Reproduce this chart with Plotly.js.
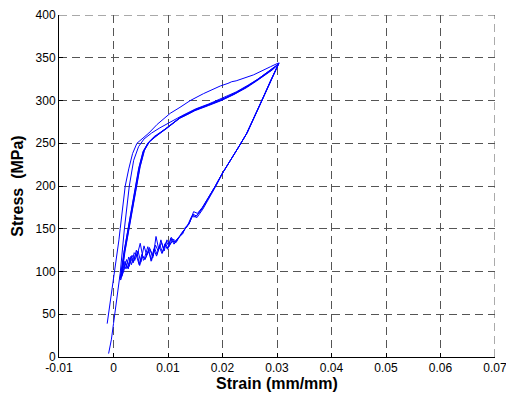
<!DOCTYPE html>
<html>
<head>
<meta charset="utf-8">
<script src="https://cdn.plot.ly/plotly-3.0.1.min.js"></script>
<style>
  html, body { margin: 0; padding: 0; background: #fff; }
  #chart { width: 506px; height: 399px; }
</style>
</head>
<body>
<div id="chart"></div>
<script>
// Cyclic stress-strain test: first loadings and repeated unload/reload loops.

// First loading, upper branch
const strainA = [-0.00116, -0.0006, 0.0, 0.0006, 0.001, 0.00123, 0.0017, 0.00215, 0.0028, 0.0035, 0.0043, 0.0052, 0.0065, 0.008, 0.0104, 0.0122, 0.0141, 0.0165, 0.0196, 0.021, 0.0217, 0.0225, 0.0257, 0.0288, 0.0303];
const stressA = [39, 64, 90, 115, 137, 150, 175, 200, 220, 238, 250, 255, 262, 272, 285, 292, 300, 308, 317, 320, 322, 323, 330, 339.5, 344];

// Second first-loading, joining the main band
const strainB = [-0.0009, -0.0004, 0.0, 0.0006, 0.00123, 0.002, 0.0029, 0.0037, 0.0046, 0.0056, 0.007, 0.0085, 0.0104, 0.0125, 0.015, 0.0175, 0.02, 0.0225, 0.0247, 0.0265, 0.0282, 0.0303];
const stressB = [4, 20, 39, 68, 98, 150, 200, 230, 246, 255, 262, 268, 275, 282, 290, 296, 303, 310, 318, 325, 333, 343];

// Loop 1: unloading then reloading
const strainL1 = [0.0303, 0.029, 0.0275, 0.026, 0.0245, 0.023, 0.0215, 0.02, 0.0187, 0.0175, 0.0163, 0.0152, 0.0146, 0.014, 0.0133, 0.0126, 0.012, 0.0114, 0.0108, 0.0102, 0.0097, 0.0092, 0.0087, 0.0082, 0.0077, 0.0072, 0.0066, 0.006, 0.0055, 0.0049, 0.0043, 0.0038, 0.0033, 0.0028, 0.0023, 0.0018, 0.0014,
                  0.002, 0.0027, 0.0034, 0.004, 0.0047, 0.0055, 0.0064, 0.0075, 0.0087, 0.0098, 0.011, 0.0122, 0.0135, 0.015, 0.0175, 0.0199, 0.0222, 0.0245, 0.0264, 0.0281, 0.0293, 0.0303];
const stressL1 = [343, 325, 303, 282, 262, 246, 231, 215, 200, 187, 174, 165, 167, 158, 151, 146, 140, 136, 138, 129, 135, 126, 137, 124, 131, 116, 128, 117, 113, 133, 118, 122, 108, 117, 103, 110, 96,
                  125, 150, 176, 198, 222, 241, 251, 258, 263, 268, 274, 280, 284, 289, 295, 301, 308, 316, 324, 332, 337, 343];

// Loop 2
const strainL2 = [0.0304, 0.0291, 0.0276, 0.0261, 0.0246, 0.0231, 0.0216, 0.0201, 0.0188, 0.0176, 0.0164, 0.0153, 0.0145, 0.0138, 0.013, 0.0124, 0.0118, 0.0112, 0.0106, 0.01, 0.0095, 0.009, 0.0085, 0.008, 0.0075, 0.007, 0.0064, 0.0058, 0.0052, 0.0047, 0.0041, 0.0036, 0.0031, 0.0026, 0.0021, 0.0016, 0.0012,
                  0.0019, 0.0026, 0.0033, 0.0039, 0.0046, 0.0054, 0.0063, 0.0074, 0.0086, 0.0097, 0.0109, 0.0121, 0.0134, 0.0149, 0.0174, 0.0198, 0.0221, 0.0244, 0.0263, 0.028, 0.0292, 0.0304];
const stressL2 = [344, 326, 304, 283, 263, 247, 232, 216, 200, 186, 173, 163, 166, 155, 149, 143, 139, 133, 140, 127, 133, 122, 131, 120, 128, 113, 125, 114, 120, 108, 121, 110, 116, 104, 112, 99, 92,
                  122, 148, 174, 196, 220, 240, 250, 257, 262, 267, 273, 279, 283, 288, 294, 300, 307, 315, 323, 331, 336, 344];

// Loop 3
const strainL3 = [0.0302, 0.0289, 0.0274, 0.0259, 0.0244, 0.0229, 0.0214, 0.0199, 0.0186, 0.0174, 0.0163, 0.0154, 0.0147, 0.0139, 0.0132, 0.0127, 0.0121, 0.0115, 0.0109, 0.0103, 0.0098, 0.0093, 0.0088, 0.0083, 0.0078, 0.0073, 0.0067, 0.0061, 0.0056, 0.005, 0.0045, 0.0039, 0.0034, 0.0029, 0.0024, 0.0019, 0.0015,
                  0.0021, 0.0029, 0.0036, 0.0042, 0.0049, 0.0057, 0.0066, 0.0077, 0.0089, 0.01, 0.0112, 0.0124, 0.0137, 0.0152, 0.0177, 0.0201, 0.0224, 0.0246, 0.0265, 0.0282, 0.0294, 0.0302];
const stressL3 = [342, 324, 302, 281, 261, 245, 230, 214, 199, 186, 175, 168, 170, 156, 152, 144, 141, 134, 136, 131, 137, 124, 134, 126, 141, 118, 126, 119, 130, 111, 124, 113, 119, 106, 114, 101, 94,
                  123, 151, 177, 199, 223, 242, 252, 258, 264, 269, 275, 281, 285, 290, 296, 302, 309, 317, 325, 333, 338, 342];

// Loop 4
const strainL4 = [0.0303, 0.0288, 0.0273, 0.0258, 0.0243, 0.0228, 0.0213, 0.0198, 0.0185, 0.0173, 0.0161, 0.0151, 0.0143, 0.0136, 0.0129, 0.0123, 0.0117, 0.0111, 0.0105, 0.0099, 0.0094, 0.0089, 0.0084, 0.0079, 0.0074, 0.0069, 0.0063, 0.0057, 0.0053, 0.0048, 0.0042, 0.0037, 0.0032, 0.0027, 0.0022, 0.0017, 0.0013,
                  0.002, 0.0028, 0.0035, 0.0041, 0.0048, 0.0056, 0.0065, 0.0076, 0.0088, 0.0099, 0.0111, 0.0123, 0.0136, 0.0151, 0.0176, 0.02, 0.0223, 0.0245, 0.0264, 0.0281, 0.0293, 0.0303];
const stressL4 = [343, 323, 301, 280, 260, 244, 229, 213, 198, 185, 172, 164, 164, 154, 147, 142, 137, 132, 139, 126, 132, 121, 129, 118, 126, 112, 129, 116, 117, 107, 125, 112, 118, 103, 110, 100, 90,
                  121, 149, 175, 197, 221, 241, 251, 257, 263, 268, 274, 280, 284, 289, 295, 301, 308, 316, 324, 332, 337, 343];

const series = [
  [strainA, stressA], [strainB, stressB],
  [strainL1, stressL1], [strainL2, stressL2], [strainL3, stressL3], [strainL4, stressL4]
];

const xTicks = [-0.01, 0, 0.01, 0.02, 0.03, 0.04, 0.05, 0.06, 0.07];
const xTickText = ['-0.01', '0', '0.01', '0.02', '0.03', '0.04', '0.05', '0.06', '0.07'];
const yTicks = [0, 50, 100, 150, 200, 250, 300, 350, 400];
const xMin = -0.01, xMax = 0.07, yMin = 0, yMax = 400;

const traces = series.map(([x, y]) => ({
  x: x, y: y, type: 'scatter', mode: 'lines',
  line: { color: '#0000ff', width: 1 },
  hoverinfo: 'skip', showlegend: false
}));

const tickFont = { family: 'Liberation Sans, Arial, sans-serif', size: 12, color: '#000' };
const titleFont = { family: 'Liberation Sans, Arial, sans-serif', size: 16, color: '#000', weight: 'bold' };
const gridStyle = { color: '#555', width: 1, dash: '8px,5px' };

const layout = {
  width: 506, height: 399,
  margin: { l: 59, r: 11, t: 15, b: 42 },
  paper_bgcolor: '#fff', plot_bgcolor: '#fff',
  showlegend: false,
  xaxis: {
    range: [xMin, xMax], tickvals: xTicks, ticktext: xTickText,
    ticks: 'inside', ticklen: 4, tickcolor: '#000', tickwidth: 1,
    showline: true, linecolor: '#000', linewidth: 1, mirror: false,
    showgrid: true, gridcolor: gridStyle.color, griddash: gridStyle.dash, gridwidth: 1,
    zeroline: false, tickfont: tickFont, automargin: false, ticklabeloverflow: 'allow',
    title: { text: 'Strain (mm/mm)', standoff: 3, font: titleFont }
  },
  yaxis: {
    range: [yMin, yMax], tickvals: yTicks,
    ticks: 'inside', ticklen: 4, tickcolor: '#000', tickwidth: 1,
    showline: true, linecolor: '#000', linewidth: 1, mirror: false,
    showgrid: true, gridcolor: gridStyle.color, griddash: gridStyle.dash, gridwidth: 1,
    zeroline: false, tickfont: tickFont, automargin: false, ticklabeloverflow: 'allow',
    title: { text: 'Stress  (MPa)', standoff: 7, font: titleFont }
  },
  // grid lines along the top and right edges of the plot box
  shapes: [
    { type: 'line', xref: 'x', yref: 'y', x0: xMin, x1: xMax, y0: yMax, y1: yMax, line: gridStyle, layer: 'below' },
    { type: 'line', xref: 'x', yref: 'y', x0: xMax, x1: xMax, y0: yMin, y1: yMax, line: gridStyle, layer: 'below' }
  ]
};

Plotly.newPlot('chart', traces, layout, { staticPlot: true, displayModeBar: false });
</script>
</body>
</html>
